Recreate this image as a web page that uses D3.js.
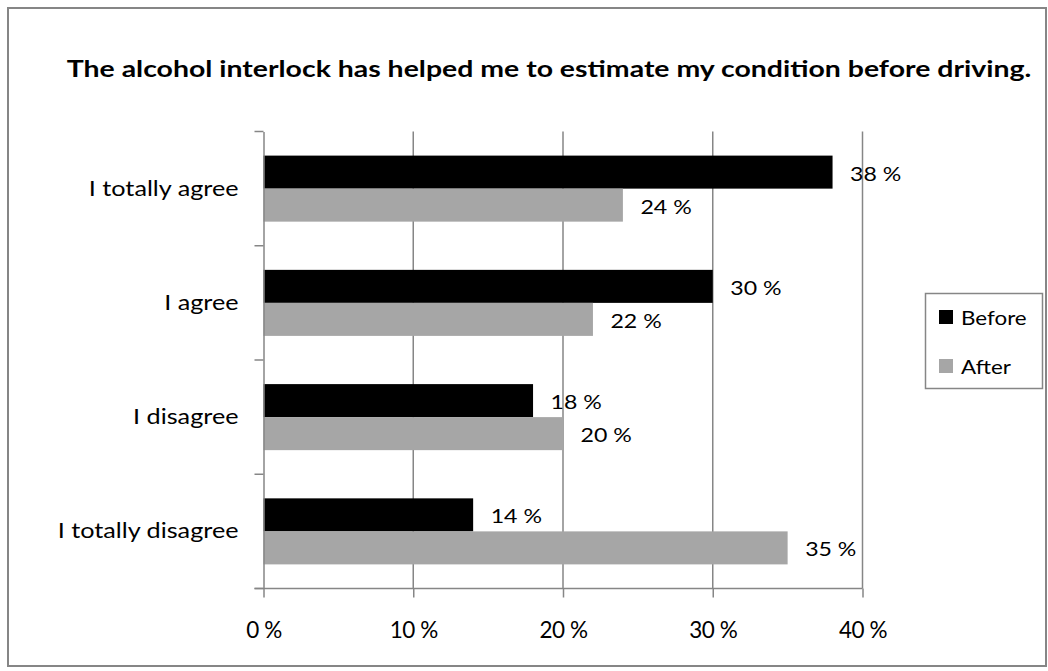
<!DOCTYPE html>
<html>
<head>
<meta charset="utf-8">
<script src="https://cdn.jsdelivr.net/npm/d3@7"></script>
<style>
  html, body { margin: 0; padding: 0; background: #fff; }
  svg { display: block; }
  text { font-family: Lato, "Open Sans", "Liberation Sans", sans-serif; fill: #000; }
</style>
</head>
<body>
<svg id="chart" width="1048" height="671"></svg>
<script>
// Survey answers and shares (percent) before and after using the interlock
const categories = ["I totally agree", "I agree", "I disagree", "I totally disagree"];
const seriesNames = ["Before", "After"];
const beforeValues = [38, 30, 18, 14];
const afterValues = [24, 22, 20, 35];
const xTicks = [0, 10, 20, 30, 40];
const seriesColors = ["#000000", "#a6a6a6"];

const svg = d3.select("#chart");
const W = 1048, H = 671;
const plot = { left: 263.5, right: 862.5, top: 131.5, bottom: 588.5 };
const gridColor = "#868686";

// Text drawn with a horizontal stretch factor (wide face look)
function wideText(parent, x, y, str, size, sx, anchor, weight) {
  return parent.append("text")
    .attr("transform", `translate(${x},${y}) scale(${sx},1)`)
    .attr("text-anchor", anchor || "start")
    .attr("font-size", size)
    .attr("font-weight", weight || "normal")
    .text(str);
}

// Outer frame
svg.append("rect")
  .attr("x", 8).attr("y", 8).attr("width", W - 10).attr("height", H - 13)
  .attr("fill", "none").attr("stroke", gridColor).attr("stroke-width", 2);

// Title
wideText(svg, 549, 77, "The alcohol interlock has helped me to estimate my condition before driving.",
  23.5, 1.21, "middle", "bold");

const x = d3.scaleLinear().domain([0, 40]).range([plot.left, plot.right]);
const y0 = d3.scaleBand().domain(categories).range([plot.top, plot.bottom]).padding(0);
const y1 = d3.scaleBand().domain(seriesNames).range([0, y0.bandwidth()])
  .paddingInner(0).paddingOuter(0.73);

// Vertical gridlines
svg.append("g").selectAll("line")
  .data(xTicks.slice(1))
  .join("line")
  .attr("x1", d => x(d)).attr("x2", d => x(d))
  .attr("y1", plot.top).attr("y2", plot.bottom)
  .attr("stroke", gridColor).attr("stroke-width", 1.5);

// Bars
const rows = categories.map((c, i) => ({
  category: c,
  values: [
    { series: "Before", value: beforeValues[i] },
    { series: "After", value: afterValues[i] }
  ]
}));

const groups = svg.append("g").selectAll("g")
  .data(rows)
  .join("g")
  .attr("transform", d => `translate(0,${y0(d.category)})`);

groups.selectAll("rect")
  .data(d => d.values)
  .join("rect")
  .attr("x", x(0))
  .attr("y", d => y1(d.series))
  .attr("width", d => x(d.value) - x(0))
  .attr("height", y1.bandwidth())
  .attr("fill", d => seriesColors[seriesNames.indexOf(d.series)]);

// Value labels
groups.each(function (row) {
  const g = d3.select(this);
  row.values.forEach(d => {
    wideText(g, x(d.value) + 17.5, y1(d.series) + y1.bandwidth() / 2 + 8.5,
      `${d.value} %`, 18.5, 1.25, "start");
  });
});

// Y axis
const yPad = 25, ySx = 1.2;
const yAxis = d3.axisLeft(y0).tickSize(0).tickPadding(yPad);
const yg = svg.append("g").attr("transform", `translate(${plot.left},0)`).call(yAxis);
yg.select(".domain").attr("stroke", gridColor).attr("stroke-width", 1.5);
yg.selectAll(".tick line").remove();
yg.selectAll("text")
  .attr("font-size", 21).attr("font-family", null).attr("fill", "#000")
  .attr("x", -yPad / ySx).attr("dy", null).attr("y", 7)
  .attr("transform", `scale(${ySx},1)`);
// category boundary ticks
svg.append("g").selectAll("line")
  .data(d3.range(categories.length + 1))
  .join("line")
  .attr("x1", plot.left - 9).attr("x2", plot.left)
  .attr("y1", i => plot.top + i * y0.step())
  .attr("y2", i => plot.top + i * y0.step())
  .attr("stroke", gridColor).attr("stroke-width", 1.5);

// X axis
const xAxis = d3.axisBottom(x).tickValues(xTicks).tickSize(9).tickPadding(25)
  .tickFormat(d => `${d} %`);
const xg = svg.append("g").attr("transform", `translate(0,${plot.bottom})`).call(xAxis);
xg.select(".domain").attr("stroke", gridColor).attr("stroke-width", 1.5)
  .attr("d", `M${plot.left - 9},0H${plot.right}`);
xg.selectAll(".tick line").attr("stroke", gridColor).attr("stroke-width", 1.5);
xg.selectAll("text").attr("font-size", 22.5).attr("font-family", null).attr("fill", "#000")
  .attr("letter-spacing", -0.5);

// Legend
const legend = svg.append("g");
legend.append("rect")
  .attr("x", 925.5).attr("y", 293.5).attr("width", 117).attr("height", 95)
  .attr("fill", "#fff").attr("stroke", gridColor).attr("stroke-width", 1.5);
const items = legend.selectAll("g.item")
  .data(seriesNames)
  .join("g")
  .attr("class", "item")
  .attr("transform", (d, i) => `translate(939,${310 + i * 49})`);
items.append("rect")
  .attr("width", 14).attr("height", 14)
  .attr("fill", (d, i) => seriesColors[i]);
items.each(function (d) {
  wideText(d3.select(this), 22, 14.5, d, 20, 1.12, "start");
});
</script>
</body>
</html>
